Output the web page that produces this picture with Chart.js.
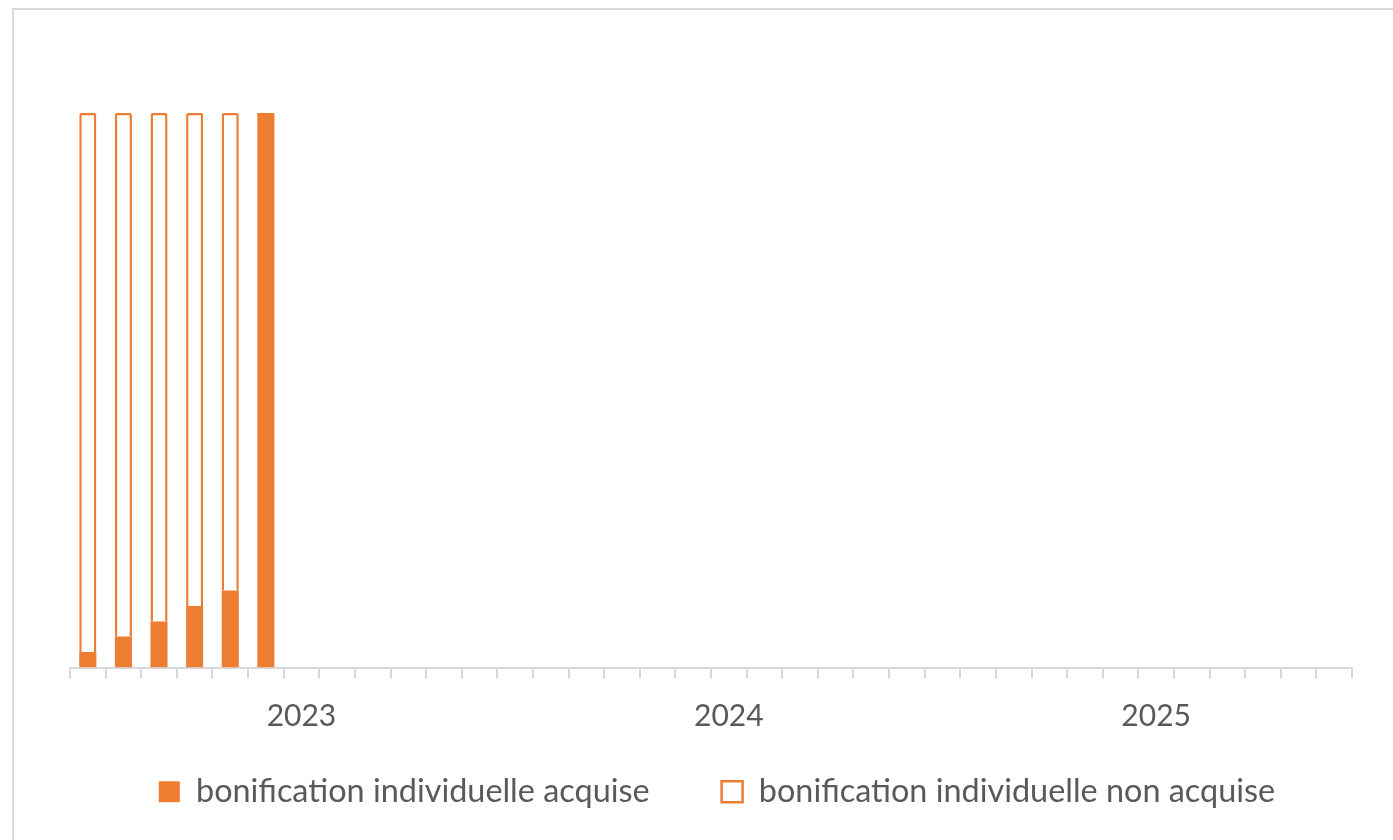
<!DOCTYPE html>
<html>
<head>
<meta charset="utf-8">
<script src="https://cdn.jsdelivr.net/npm/chart.js@4.4.1/dist/chart.umd.min.js"></script>
<style>
  html, body { margin: 0; padding: 0; background: #ffffff; overflow: hidden; width: 1393px; height: 840px; }
  #frame { position: absolute; left: 12px; top: 8px; width: 1500px; height: 900px; border: 2px solid #d9d9d9; box-sizing: border-box; }
  #wrap { position: absolute; left: 12px; top: 0px; width: 1408px; height: 840px; }
</style>
</head>
<body>
<div id="frame"></div>
<div id="wrap"><canvas id="c" width="1408" height="840"></canvas></div>
<script>
// Categories: months from January 2023 to December 2025
const months = [
  '2023-01','2023-02','2023-03','2023-04','2023-05','2023-06','2023-07','2023-08','2023-09','2023-10','2023-11','2023-12',
  '2024-01','2024-02','2024-03','2024-04','2024-05','2024-06','2024-07','2024-08','2024-09','2024-10','2024-11','2024-12',
  '2025-01','2025-02','2025-03','2025-04','2025-05','2025-06','2025-07','2025-08','2025-09','2025-10','2025-11','2025-12'
];
// Tick labels shown under the axis
const tickLabels = [
  '','','','','','','2023','','','','','',
  '','','','','','','2024','','','','','',
  '','','','','','','2025','','','','',''
];
// Series values (% of the individual bonus)
const acquise    = [2.8, 5.6, 8.3, 11.1, 13.9, 100];
const nonAcquise = [97.2, 94.4, 91.7, 88.9, 86.1, null];
const seriesNames = ['bonification individuelle acquise', 'bonification individuelle non acquise'];

const ORANGE = '#ED7D31';
const GREY_TEXT = '#595959';
const GREY_LINE = '#d9d9d9';

// Small nudge of the legend so it is centred on the whole chart frame
const legendShift = {
  id: 'legendShift',
  afterLayout(chart) {
    if (chart.legend) { chart.legend.left += 6; chart.legend.right += 6; }
  }
};

new Chart(document.getElementById('c'), {
  type: 'bar',
  plugins: [legendShift],
  data: {
    labels: months,
    datasets: [
      {
        label: seriesNames[0],
        data: acquise,
        backgroundColor: ORANGE,
        borderColor: ORANGE,
        borderWidth: 0,
        categoryPercentage: 1,
        barPercentage: 0.48
      },
      {
        label: seriesNames[1],
        data: nonAcquise,
        backgroundColor: '#ffffff',
        borderColor: ORANGE,
        borderWidth: 2.5,
        borderRadius: 2,
        categoryPercentage: 1,
        barPercentage: 0.48
      }
    ]
  },
  options: {
    responsive: false,
    animation: false,
    layout: { padding: { left: 58, right: 68, top: 2, bottom: 22 } },
    plugins: {
      tooltip: { enabled: false },
      title: { display: false },
      legend: {
        position: 'bottom',
        align: 'center',
        labels: {
          color: GREY_TEXT,
          font: { family: 'Lato', size: 32.4 },
          boxWidth: 21,
          boxHeight: 21,
          padding: 72
        }
      }
    },
    scales: {
      x: {
        stacked: true,
        offset: true,
        afterFit: (s) => { s.height = 36; s._computeLabelArea = () => undefined; },
        grid: {
          display: true,
          offset: true,
          drawOnChartArea: false,
          drawTicks: true,
          tickLength: 11,
          color: GREY_LINE,
          lineWidth: 2
        },
        border: { display: true, color: GREY_LINE, width: 2 },
        ticks: {
          autoSkip: false,
          maxRotation: 0,
          minRotation: 0,
          padding: 20,
          color: GREY_TEXT,
          font: { family: 'Lato', size: 30 },
          callback: (v, i) => tickLabels[i]
        }
      },
      y: {
        display: false,
        stacked: true,
        min: 0,
        max: 120
      }
    }
  }
});
</script>
</body>
</html>
